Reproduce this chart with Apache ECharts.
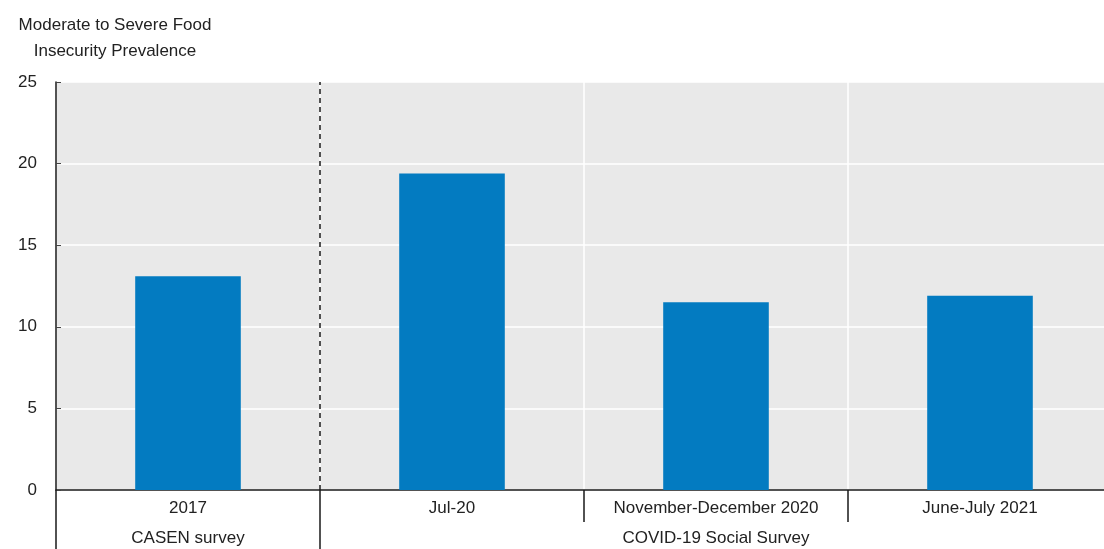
<!DOCTYPE html>
<html>
<head>
<meta charset="utf-8">
<script src="https://cdn.jsdelivr.net/npm/echarts@6/dist/echarts.min.js"></script>
<style>
html,body{margin:0;padding:0;background:#fff;}
#chart{width:1104px;height:549px;}
</style>
</head>
<body>
<div id="chart"></div>
<script>
const titleText = 'Moderate to Severe Food\nInsecurity Prevalence';
const categories = ['2017', 'Jul-20', 'November-December 2020', 'June-July 2021'];
const values = [13.1, 19.4, 11.5, 11.9];
const groupNames = ['CASEN survey', 'COVID-19 Social Survey'];
const groupSpans = [1, 3];
const yMin = 0, yMax = 25, yStep = 5;

// group boundaries and centres in category-index units
const groupBounds = [0];
const groupCenters = [];
groupSpans.forEach(function (s) {
  const start = groupBounds[groupBounds.length - 1];
  groupCenters.push(start + s / 2);
  groupBounds.push(start + s);
});
// long ticks at group starts (not the far right edge), short ticks at inner category boundaries
const longTicks = groupBounds.slice(0, -1);
const shortTicks = [];
for (let i = 1; i < categories.length; i++) {
  if (groupBounds.indexOf(i) < 0) shortTicks.push(i);
}

const FONT = 'Liberation Sans, Arial, sans-serif';
const FS = 17;
const chart = echarts.init(document.getElementById('chart'), null, {renderer: 'canvas'});
chart.setOption({
  animation: false,
  title: {
    text: titleText,
    left: 110,
    top: 7,
    textAlign: 'center',
    textStyle: {fontFamily: FONT, fontSize: FS, fontWeight: 'normal', color: '#222', lineHeight: 26}
  },
  grid: {
    left: 56, width: 1056, top: 82, bottom: 59,
    containLabel: false,
    outerBoundsMode: 'none',
    show: true, backgroundColor: '#e9e9e9', borderWidth: 0
  },
  xAxis: [
    {
      type: 'category',
      data: categories,
      boundaryGap: true,
      axisLine: {show: true, lineStyle: {color: '#1a1a1a', width: 1.5}},
      axisTick: {show: false},
      axisLabel: {interval: 0, hideOverlap: false, margin: 10, fontFamily: FONT, fontSize: FS, color: '#222'},
      splitLine: {show: true, interval: 0, lineStyle: {color: '#ffffff', width: 1.5}}
    },
    {
      type: 'value',
      min: 0,
      max: categories.length,
      position: 'bottom',
      axisLine: {show: false},
      axisTick: {show: true, length: 59, customValues: longTicks, lineStyle: {color: '#1a1a1a', width: 1.5}},
      axisLabel: {
        show: true, margin: 40, customValues: groupCenters,
        fontFamily: FONT, fontSize: FS, color: '#222',
        formatter: function (v) {
          const i = groupCenters.indexOf(v);
          return i >= 0 ? groupNames[i] : '';
        }
      },
      splitLine: {show: false}
    },
    {
      type: 'value',
      min: 0,
      max: categories.length,
      position: 'bottom',
      axisLine: {show: false},
      axisTick: {show: true, length: 32, customValues: shortTicks, lineStyle: {color: '#1a1a1a', width: 1.5}},
      axisLabel: {show: false},
      splitLine: {show: false}
    }
  ],
  yAxis: {
    type: 'value',
    min: yMin, max: yMax, interval: yStep,
    axisLine: {show: true, lineStyle: {color: '#1a1a1a', width: 1.5}},
    axisTick: {show: true, inside: true, length: 5, lineStyle: {color: '#444', width: 1}},
    axisLabel: {margin: 19, fontFamily: FONT, fontSize: FS, color: '#222'},
    splitLine: {show: true, lineStyle: {color: '#ffffff', width: 1.5}}
  },
  series: [
    {
      type: 'bar',
      data: values,
      barWidth: '40%',
      itemStyle: {color: '#037bc1'},
      xAxisIndex: 0,
      yAxisIndex: 0
    },
    {
      type: 'scatter',
      xAxisIndex: 1,
      yAxisIndex: 0,
      data: [[groupBounds[1], 0]],
      symbolSize: 0,
      silent: true,
      markLine: {
        silent: true,
        symbol: ['none', 'none'],
        label: {show: false},
        lineStyle: {color: '#1a1a1a', width: 1.5, type: [5, 4]},
        data: [{xAxis: groupBounds[1]}]
      }
    }
  ]
});
</script>
</body>
</html>
